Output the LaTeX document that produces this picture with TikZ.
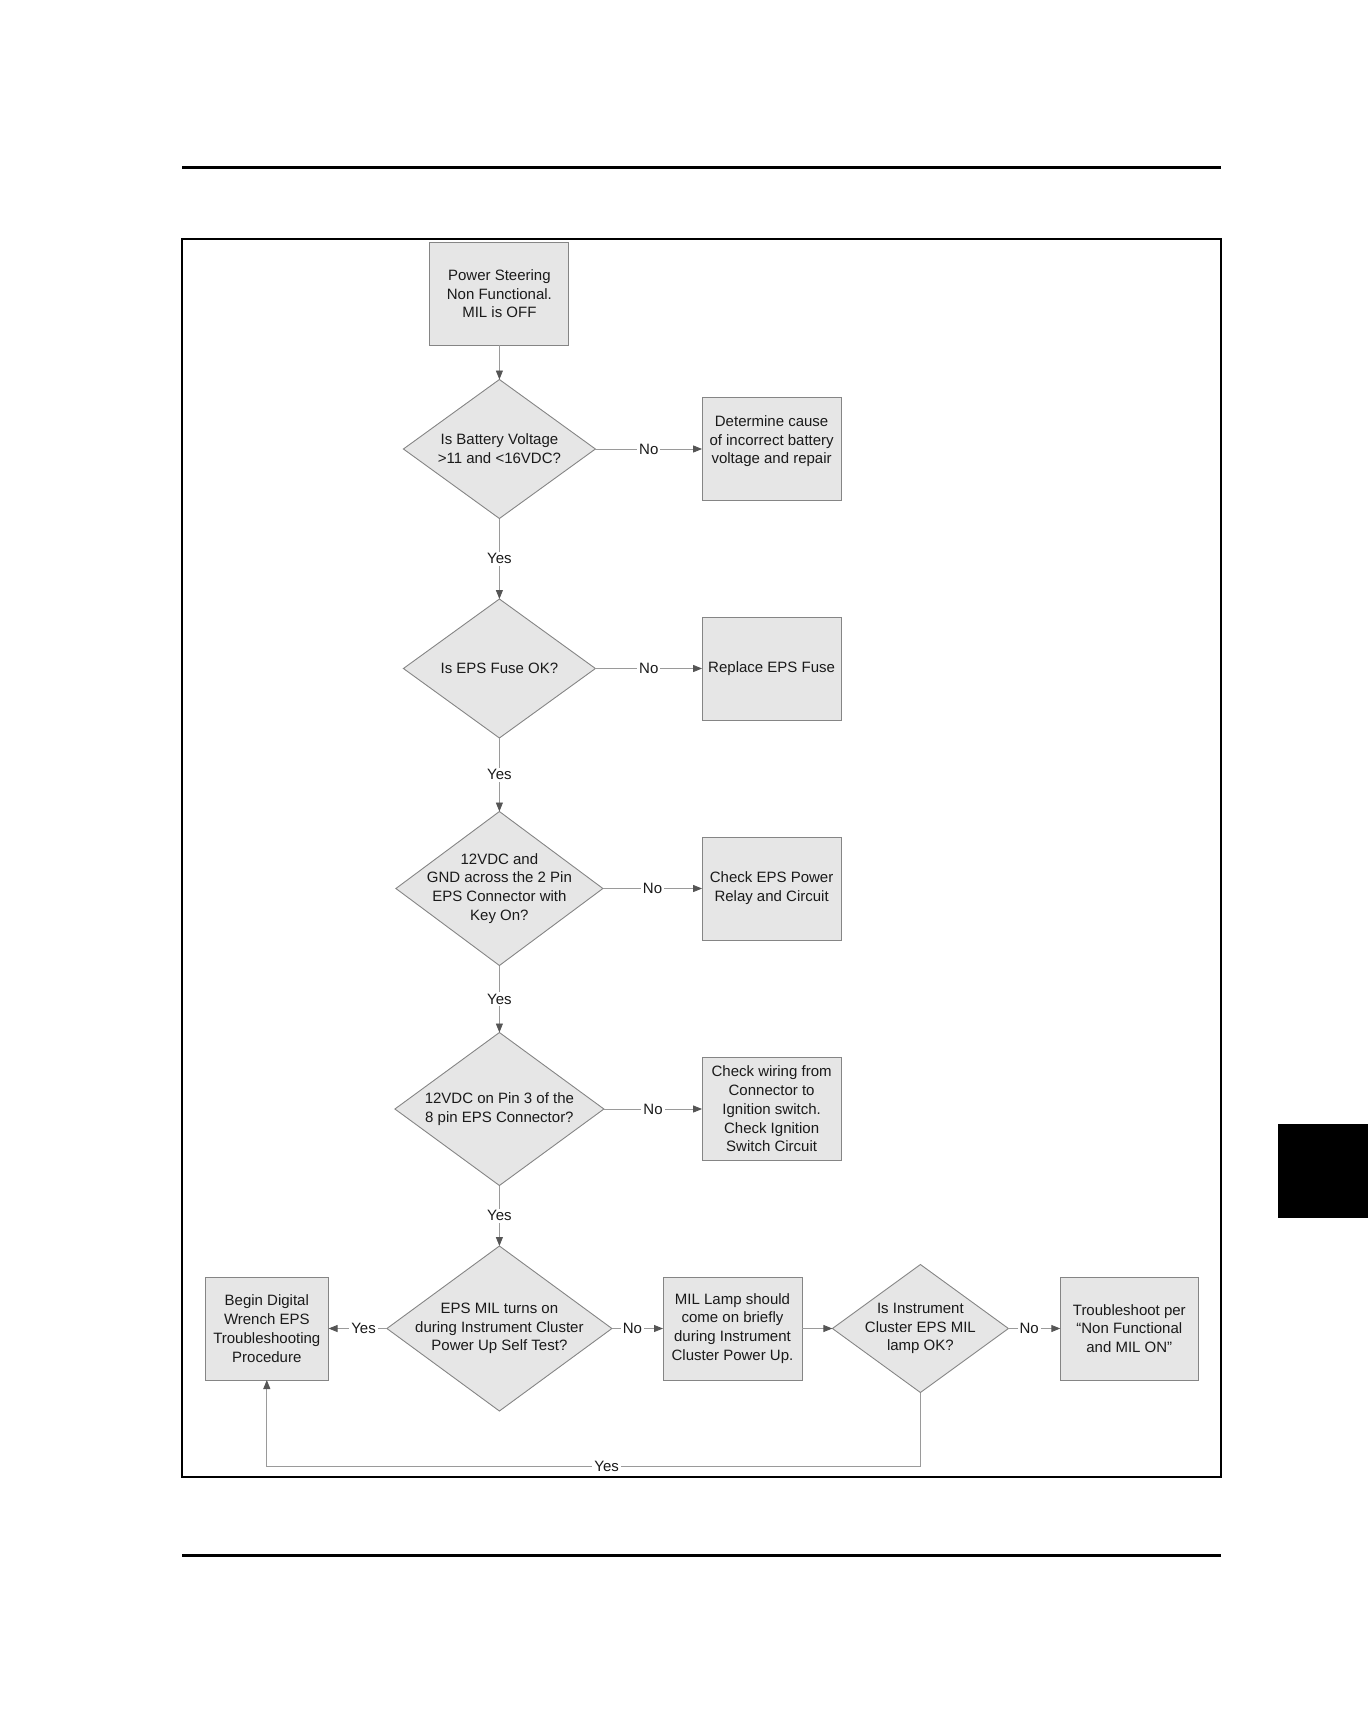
\documentclass[tikz,border=0pt]{standalone}
\usepackage{fontspec}
\setmainfont{Liberation Sans}
\usetikzlibrary{arrows.meta, backgrounds}
\definecolor{boxfill}{HTML}{E6E6E6}
\definecolor{edgecolor}{HTML}{858585}
\definecolor{wirecolor}{HTML}{9A9A9A}
\definecolor{tipcolor}{HTML}{555555}
\definecolor{inkcolor}{HTML}{1A1A1A}

\begin{document}
\begin{tikzpicture}[x=1pt, y=-1pt,
    every node/.style={font=\fontsize{15}{18.8}\selectfont, text=inkcolor},
    act/.style={draw=edgecolor, fill=boxfill, line width=0.9pt, align=center,
        inner sep=2pt, outer sep=0pt, minimum width=139pt, minimum height=103pt},
    ask/.style 2 args={align=center, inner sep=0pt, outer sep=0pt,
        minimum width=#1, minimum height=#2},
    wire/.style={wirecolor, line width=0.9pt,
        -{Triangle[length=9pt, width=7pt, color=tipcolor]}},
    ans/.style={fill=white, inner sep=2pt},
]
\useasboundingbox (0,0) rectangle (1368,1728);

% page rules, frame and thumb tab
\draw[line width=2.6pt] (182, 167.5) -- (1221, 167.5);
\draw[line width=2.2pt] (182, 239.2) rectangle (1221, 1477);
\draw[line width=2.6pt] (182, 1555.3) -- (1221, 1555.3);
\fill (1277.6, 1124.3) rectangle (1368, 1218);

% main column
\node[act] (start) at (499.4, 293.8) {Power Steering\\Non Functional.\\MIL is OFF};
\node[ask={192pt}{139pt}] (d1) at (499.4, 449) {Is Battery Voltage\\>11 and <16VDC?};
\node[ask={192pt}{139pt}] (d2) at (499.4, 668.5) {Is EPS Fuse OK?};
\node[ask={207pt}{154pt}] (d3) at (499.4, 888.5) {12VDC and\\GND across the 2 Pin\\EPS Connector with\\Key On?};
\node[ask={209pt}{153pt}] (d4) at (499.4, 1109) {12VDC on Pin 3 of the\\8 pin EPS Connector?};
\node[ask={225pt}{165pt}] (d5) at (499.4, 1328.5) {EPS MIL turns on\\during Instrument Cluster\\Power Up Self Test?};

% right column
\node[act, text depth=18.5pt] (b1) at (771.6, 449) {Determine cause\\of incorrect battery\\voltage and repair};
\node[act] (b2) at (771.6, 668.5) {Replace EPS Fuse};
\node[act] (b3) at (771.6, 888.5) {Check EPS Power\\Relay and Circuit};
\node[act] (b4) at (771.6, 1109) {Check wiring from\\Connector to\\Ignition switch.\\Check Ignition\\Switch Circuit};

% bottom row
\node[act, minimum width=123.5pt] (b5) at (266.8, 1328.5) {Begin Digital\\Wrench EPS\\Troubleshooting\\Procedure};
\node[act] (b6) at (732.5, 1328.5) {MIL Lamp should\\come on briefly\\during Instrument\\Cluster Power Up.};
\node[ask={176pt}{128pt}] (d6) at (920.4, 1328.5) {Is Instrument\\Cluster EPS MIL\\lamp OK?};
\node[act, minimum width=138pt] (b7) at (1129.3, 1328.5) {Troubleshoot per\\“Non Functional\\and MIL ON”};

\begin{scope}[on background layer]
\foreach \n in {d1,d2,d3,d4,d5,d6}
    \draw[edgecolor, fill=boxfill, line width=0.9pt]
        (\n.north) -- (\n.east) -- (\n.south) -- (\n.west) -- cycle;
\end{scope}

\draw[wire] (start) -- (d1);
\foreach \a/\b in {d1/d2, d2/d3, d3/d4, d4/d5}
    \draw[wire] (\a) -- node[ans] {Yes} (\b);
\foreach \a/\b in {d1/b1, d2/b2, d3/b3, d4/b4}
    \draw[wire] (\a) -- node[ans] {No} (\b);
\draw[wire] (d5) -- node[ans, pos=0.4] {Yes} (b5);
\draw[wire] (d5) -- node[ans, pos=0.4] {No} (b6);
\draw[wire] (b6) -- (d6);
\draw[wire] (d6) -- node[ans, pos=0.4] {No} (b7);

\coordinate (turn) at (920.4, 1466);
\draw[wire] (d6.south) -- (turn) -- node[ans, pos=0.48] {Yes} (turn -| b5.south) -- (b5.south);

\end{tikzpicture}
\end{document}
